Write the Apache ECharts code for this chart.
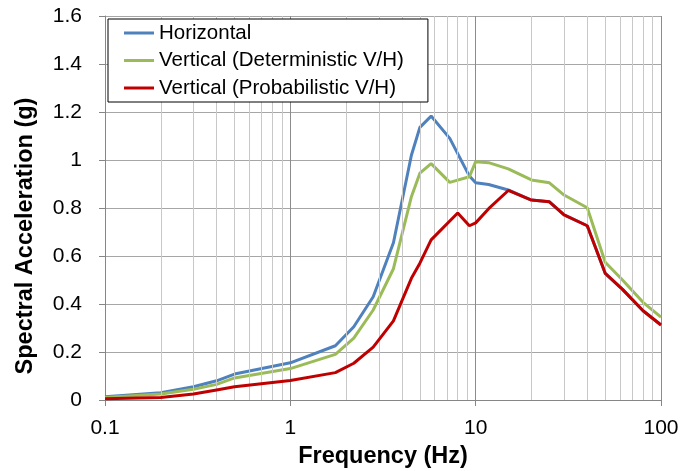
<!DOCTYPE html>
<html>
<head>
<meta charset="utf-8">
<script src="https://cdn.jsdelivr.net/npm/echarts@6/dist/echarts.min.js"></script>
<style>
    html, body { margin: 0; padding: 0; background: #fff; }
    #chart { width: 681px; height: 471px; }
</style>
</head>
<body>
<div id="chart"></div>
<script>
// frequencies (Hz) shared by the three curves
const freq = [0.1, 0.2, 0.3, 0.4, 0.5, 1, 1.75, 2.2, 2.8, 3.6, 4.5, 5, 5.75, 7.25, 8, 9.25, 10, 11.75, 15, 20, 25, 30, 40, 50, 62, 80, 100]
const horizontal = [0.014, 0.03, 0.055, 0.08, 0.108, 0.155, 0.226, 0.305, 0.43, 0.655, 1.02, 1.136, 1.183, 1.09, null, 0.933, 0.905, 0.898, 0.875, 0.833, 0.826, 0.771, 0.726, 0.528, 0.461, 0.372, 0.3125]
const vertDet = [0.01, 0.025, 0.045, 0.065, 0.092, 0.131, 0.19, 0.258, 0.375, 0.547, 0.847, 0.945, 0.985, 0.907, null, 0.93, 0.993, 0.989, 0.963, 0.917, 0.905, 0.854, 0.801, 0.574, 0.5, 0.407, 0.345]
const vertProb = [0.005, 0.01, 0.025, 0.042, 0.055, 0.081, 0.114, 0.153, 0.22, 0.33, 0.507, 0.57, 0.667, null, 0.779, 0.726, 0.738, 0.797, 0.873, 0.833, 0.826, 0.771, 0.726, 0.528, 0.461, 0.372, 0.3125]
const seriesNames = ['Horizontal', 'Vertical (Deterministic V/H)', 'Vertical (Probabilistic V/H)']
const seriesColors = ['#4f81bd', '#9bbb59', '#c00000']
// log minor grid lines (2..9 in each decade)
const minorGrid = [0.2, 0.3, 0.4, 0.5, 0.6, 0.7, 0.8, 0.9, 2, 3, 4, 5, 6, 7, 8, 9, 20, 30, 40, 50, 60, 70, 80, 90]

const font = 'Liberation Sans, Arial, sans-serif'
const pair = vals => freq.map((f, i) => [f, vals[i]])
const curve = (i, vals) => ({
    name: seriesNames[i],
    type: 'line',
    data: pair(vals),
    connectNulls: true,
    showSymbol: false,
    z: 3 + i,
    itemStyle: { color: seriesColors[i] },
    lineStyle: { width: 3, color: seriesColors[i] }
})

const chart = echarts.init(document.getElementById('chart'))
chart.setOption({
    animation: false,
    grid: { left: 105, right: 20, top: 16, bottom: 71, outerBoundsMode: 'none', containLabel: false },
    legend: {
        data: seriesNames,
        orient: 'vertical',
        left: 108,
        top: 19,
        z: 20,
        icon: 'rect',
        itemWidth: 30,
        itemHeight: 3,
        itemGap: 5.5,
        padding: [3, 24, 3, 16],
        backgroundColor: '#fff',
        borderColor: '#000',
        borderWidth: 1,
        textStyle: { fontFamily: font, fontSize: 20.5, color: '#000', lineHeight: 22 }
    },
    xAxis: {
        type: 'log',
        logBase: 10,
        min: 0.1,
        max: 100,
        name: 'Frequency (Hz)',
        nameLocation: 'middle',
        nameGap: 45,
        nameTextStyle: { fontFamily: font, fontSize: 23.5, fontWeight: 'bold', color: '#000' },
        axisLine: { lineStyle: { color: '#868686', width: 1 } },
        axisTick: { show: true, length: 6, lineStyle: { color: '#868686' } },
        axisLabel: { margin: 18, fontFamily: font, fontSize: 21, color: '#000' },
        splitLine: { show: true, lineStyle: { color: '#8c8c8c', width: 1 } }
    },
    yAxis: {
        type: 'value',
        min: 0,
        max: 1.6,
        interval: 0.2,
        name: 'Spectral Acceleration (g)',
        nameLocation: 'middle',
        nameGap: 67,
        nameTextStyle: { fontFamily: font, fontSize: 23.5, fontWeight: 'bold', color: '#000', padding: [0, 56, 0, 0] },
        axisLine: { show: true, lineStyle: { color: '#868686', width: 1 } },
        axisTick: { show: true, length: 6, lineStyle: { color: '#868686' } },
        axisLabel: { margin: 23, fontFamily: font, fontSize: 21, color: '#000' },
        splitLine: { show: true, lineStyle: { color: '#a6a6a6', width: 1 } }
    },
    series: [
        {
            name: 'minor',
            type: 'line',
            data: [],
            z: 1,
            silent: true,
            markLine: {
                silent: true,
                symbol: 'none',
                label: { show: false },
                lineStyle: { color: '#c8c8c8', width: 1, type: 'solid' },
                data: minorGrid.map(v => ({ xAxis: v }))
            }
        },
        curve(0, horizontal),
        curve(1, vertDet),
        curve(2, vertProb)
    ]
})
</script>
</body>
</html>
